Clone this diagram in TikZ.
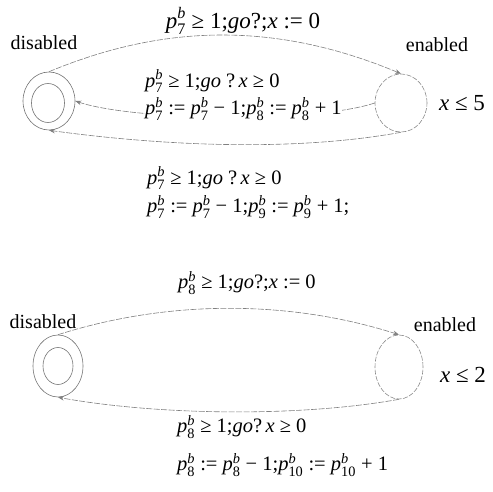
\documentclass[tikz,border=0pt]{standalone}
\usepackage{amsmath}
\usepackage{fontspec}
\setmainfont{Liberation Serif}
\usetikzlibrary{shapes.geometric,arrows.meta}
\newcommand\pv[1]{\ensuremath{\textit{p}^{\textit{b}}_{\text{#1}}}}
\newcommand\vx{\textit{x}}
\newcommand\vgo{\textit{go}}
\begin{document}
\begin{tikzpicture}[x=1pt,y=-1pt,
  st/.style={ellipse,draw=black!55,line width=0.6pt,inner sep=0pt},
  enst/.style={st,draw=black!45,dash pattern=on 5pt off 1.5pt},
  edge/.style={draw=black!50,line width=0.6pt,dash pattern=on 6pt off 1.5pt,-{Stealth[length=6pt,width=4.5pt]}},
  lab/.style={font=\fontsize{20.5}{24}\selectfont,inner sep=0pt},
  biglab/.style={font=\fontsize{23}{26}\selectfont,inner sep=0pt},
  nm/.style={font=\fontsize{20}{24}\selectfont,inner sep=0pt}]
\useasboundingbox (0,0) rectangle (493,492);

% ---------- top automaton ----------
\node[st,minimum width=52,minimum height=58] (d1) at (49,101) {};
\node[st,minimum width=33,minimum height=39] (d1i) at (48,103) {};
\node[enst,minimum width=52,minimum height=58] (e1) at (401,103) {};
\node[nm] (n1) at (44,43) {disabled};
\node[nm] (n2) at (437,45) {enabled};
\node[biglab] (g1) at (462,103) {\vx\ ≤ 5};

\draw[edge] (d1.north) .. controls +(120,-50) and +(-120,-50) .. (e1.north);
\draw[edge] (e1.west) .. controls +(-60,20) and +(60,20) .. (d1.east);
\draw[edge] (e1.south) .. controls +(-110,20) and +(110,15) .. (d1.south);

\node[biglab] (t1) at (243,21) {\pv{7} ≥ 1;\vgo?;\vx\ := 0};
\node[lab,anchor=west] (m1) at (145,81) {\pv{7} ≥ 1;\vgo\ ?\,\vx\ ≥ 0};
\node[lab,anchor=west,fill=white,inner ysep=2pt] (m2) at (145,109) {\pv{7} := \pv{7} − 1;\pv{8} := \pv{8} + 1};
\node[lab,anchor=west] (b1) at (147,178) {\pv{7} ≥ 1;\vgo\ ?\,\vx\ ≥ 0};
\node[lab,anchor=west] (b2) at (147,207) {\pv{7} := \pv{7} − 1;\pv{9} := \pv{9} + 1;};

% ---------- bottom automaton ----------
\node[st,minimum width=50,minimum height=62] (d2) at (58,366) {};
\node[st,minimum width=30,minimum height=37] (d2i) at (58,366) {};
\node[enst,minimum width=48,minimum height=64] (e2) at (399,367) {};
\node[nm] (n3) at (43,322) {disabled};
\node[nm] (n4) at (445,325) {enabled};
\node[biglab] (g2) at (463,375) {\vx\ ≤ 2};

\draw[edge] (d2.north) .. controls +(110,-35) and +(-110,-35) .. (e2.north);
\draw[edge] (e2.south) .. controls +(-100,18) and +(100,18) .. (d2.south);

\node[lab] (t2) at (247,283) {\pv{8} ≥ 1;\vgo?;\vx\ := 0};
\node[lab,anchor=west] (c1) at (177,427) {\pv{8} ≥ 1;\vgo?\,\vx\ ≥ 0};
\node[lab,anchor=west] (c2) at (177,465) {\pv{8} := \pv{8} − 1;\pv{10} := \pv{10} + 1};
\end{tikzpicture}
\end{document}
